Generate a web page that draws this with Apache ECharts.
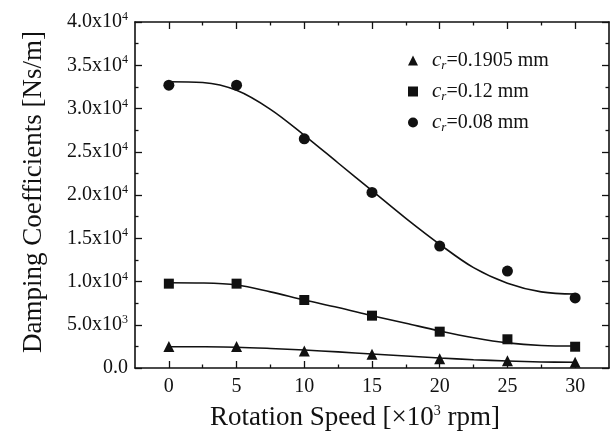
<!DOCTYPE html>
<html>
<head>
<meta charset="utf-8">
<script src="https://cdn.jsdelivr.net/npm/echarts@6/dist/echarts.min.js"></script>
<style>
  html, body { margin: 0; padding: 0; background: #fff; }
  #root { width: 615px; height: 432px; }
</style>
</head>
<body>
<div id="root"></div>
<script>
// measured points
var speeds = [0, 5, 10, 15, 20, 25, 30];
var cr01905 = [2500, 2500, 1970, 1580, 1080, 840, 660];
var cr012 = [9750, 9750, 7860, 6050, 4200, 3320, 2460];
var cr008 = [32700, 32700, 26500, 20300, 14100, 11200, 8100];

// fitted curves, every 2.5
var fitSpeeds = [0, 2.5, 5, 7.5, 10, 12.5, 15, 17.5, 20, 22.5, 25, 27.5, 30];
var fit01905 = [2460, 2450, 2400, 2260, 2080, 1860, 1620, 1380, 1160, 960, 810, 700, 660];
var fit012 = [9860, 9830, 9600, 8800, 7860, 7000, 6050, 5170, 4280, 3500, 2900, 2600, 2540];
var fit008 = [33100, 33000, 32100, 29900, 26900, 23700, 20500, 17300, 14300, 11600, 9800, 8800, 8550];

// axis ticks
var xTicks = [0, 5, 10, 15, 20, 25, 30];
var xMinorTicks = [2.5, 7.5, 12.5, 17.5, 22.5, 27.5];
var yTickLabels = ['0.0', '5.0x10^3', '1.0x10^4', '1.5x10^4', '2.0x10^4', '2.5x10^4', '3.0x10^4', '3.5x10^4', '4.0x10^4'];
var legendNames = ['0.1905 mm', '0.12 mm', '0.08 mm'];

var FONT = 'Liberation Serif';
var INK = '#111';

function pair(xs, ys) {
    return xs.map(function (x, i) { return [x, ys[i]]; });
}

var myChart = echarts.init(document.getElementById('root'));

var lineStyle = { color: INK, width: 1.6 };
function xAx(pos, ticks, len, withLabels, withLine) {
    return {
        type: 'value', position: pos, min: -2.5, max: 32.5,
        splitLine: { show: false },
        axisLine: { show: withLine, onZero: false, lineStyle: lineStyle },
        axisTick: { inside: true, length: len, customValues: ticks, lineStyle: { color: INK, width: 1.3 } },
        axisLabel: withLabels ? {
            customValues: ticks, margin: 9, fontFamily: FONT, fontSize: 20, color: INK
        } : { show: false }
    };
}
function yAx(pos, withLabels) {
    return {
        type: 'value', position: pos, min: 0, max: 40000, interval: 5000,
        splitLine: { show: false },
        axisLine: { show: true, onZero: false, lineStyle: lineStyle },
        axisTick: { inside: true, length: 7, lineStyle: { color: INK, width: 1.3 } },
        minorTick: { show: true, splitNumber: 2, length: 3.5, lineStyle: { color: INK, width: 1.3 } },
        axisLabel: withLabels ? {
            margin: 7,
            formatter: function (v) {
                var s = yTickLabels[Math.round(v / 5000)];
                var p = s.split('^');
                return p.length > 1 ? '{b|' + p[0] + '}{s|' + p[1] + '}' : '{b|' + s + '}';
            },
            rich: {
                b: { fontFamily: FONT, fontSize: 20, color: INK },
                s: { fontFamily: FONT, fontSize: 12, color: INK, padding: [0, 0, 10, 0] }
            }
        } : { show: false }
    };
}

var yAxisMain = yAx('left', true);
yAxisMain.name = 'Damping Coefficients [Ns/m]';
yAxisMain.nameLocation = 'middle';
yAxisMain.nameGap = 88;
yAxisMain.nameTextStyle = { fontFamily: FONT, fontSize: 27, color: INK, padding: [0, 0, 0, 6] };

var xAxisMain = xAx('bottom', xTicks, 7, true, true);
xAxisMain.name = '{b|Rotation Speed [\u00d710}{s|3}{b| rpm]}';
xAxisMain.nameLocation = 'middle';
xAxisMain.nameGap = 36;
xAxisMain.nameTextStyle = {
    padding: [0, 34, 0, 0],
    rich: {
        b: { fontFamily: FONT, fontSize: 27, color: INK },
        s: { fontFamily: FONT, fontSize: 14, color: INK, padding: [0, 0, 13, 0] }
    }
};

var symbols = ['triangle', 'rect', 'circle'];
var sizes = [11, 10, 11];
var pts = [cr01905, cr012, cr008];
var fits = [fit01905, fit012, fit008];

var series = [];
for (var i = 0; i < 3; i++) {
    series.push({
        name: legendNames[i], type: 'scatter', symbol: symbols[i], symbolSize: sizes[i],
        itemStyle: { color: INK, opacity: 1 }, data: pair(speeds, pts[i]), z: 3
    });
    series.push({
        name: 'fit' + i, type: 'line', smooth: 0.35, showSymbol: false, symbol: 'none',
        lineStyle: { color: INK, width: 1.6 }, data: pair(fitSpeeds, fits[i]), z: 2
    });
}

const option = {
    animation: false,
    backgroundColor: '#fff',
    grid: { left: 135, top: 22, right: 6, bottom: 64, containLabel: false, outerBoundsMode: 'none' },
    legend: {
        data: legendNames,
        orient: 'vertical', left: 403, top: 45,
        itemWidth: 10, itemHeight: 10, itemGap: 9,
        formatter: function (n) { return '{c|c}{r|r}{t|=' + n + '}'; },
        textStyle: {
            rich: {
                c: { fontFamily: FONT, fontStyle: 'italic', fontSize: 21, color: INK, lineHeight: 24, padding: [0, 0, 0, 9] },
                r: { fontFamily: FONT, fontStyle: 'italic', fontSize: 13, color: INK, padding: [10, 0, 0, 0] },
                t: { fontFamily: FONT, fontSize: 20, color: INK, lineHeight: 24 }
            }
        }
    },
    xAxis: [
        xAxisMain,
        xAx('bottom', xMinorTicks, 3.5, false, false),
        xAx('top', xTicks, 7, false, true),
        xAx('top', xMinorTicks, 3.5, false, false)
    ],
    yAxis: [yAxisMain, yAx('right', false)],
    series: series
};
option && myChart.setOption(option);
</script>
</body>
</html>
